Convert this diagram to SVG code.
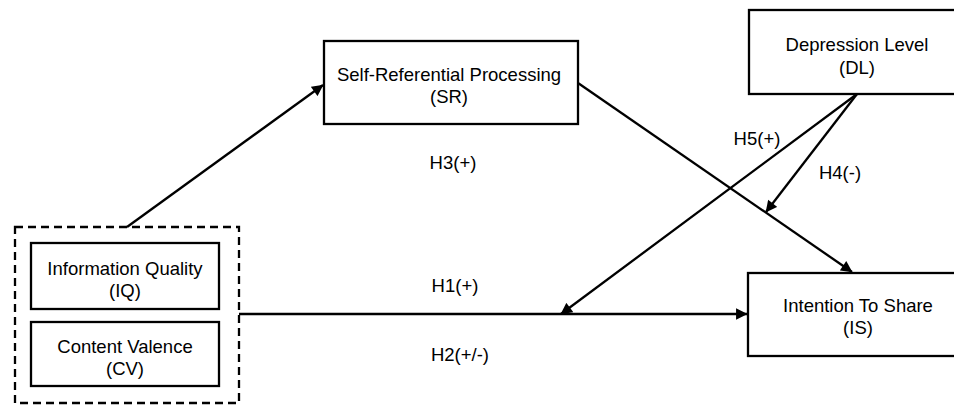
<svg xmlns="http://www.w3.org/2000/svg" width="954" height="405" viewBox="0 0 954 405">
  <style>
    .box { fill: #ffffff; stroke: #000000; stroke-width: 2.3; }
    .grp { fill: none; stroke: #000000; stroke-width: 2.3; stroke-dasharray: 8 5; }
    .txt { font-family: "Liberation Sans", Arial, sans-serif; font-size: 18.5px; fill: #000000; text-anchor: middle; }
    .edge { fill: none; stroke: #000000; stroke-width: 2.3; marker-end: url(#arrow); }
  </style>
  <defs>
    <marker id="arrow" viewBox="0 0 10 10" refX="9.5" refY="5" markerWidth="5.5" markerHeight="5" markerUnits="strokeWidth" orient="auto">
      <path d="M0,0 L10,5 L0,10 z" fill="#000000"/>
    </marker>
  </defs>
  <rect width="954" height="405" fill="#ffffff"/>

  <g id="connectors">
    <line class="edge" x1="127" y1="227" x2="323" y2="85"/>
    <line class="edge" x1="239" y1="314" x2="747" y2="314"/>
    <line class="edge" x1="578" y1="83" x2="852" y2="272"/>
    <line class="edge" x1="857" y1="94" x2="561" y2="314"/>
    <line class="edge" x1="857" y1="94" x2="766" y2="212"/>
    <text class="txt" x="453" y="169">H3(+)</text>
    <text class="txt" x="455" y="292">H1(+)</text>
    <text class="txt" x="460" y="361">H2(+/-)</text>
    <text class="txt" x="757" y="145">H5(+)</text>
    <text class="txt" x="840" y="179">H4(-)</text>
  </g>

  <g id="IQCV">
    <rect class="grp" x="15" y="227" width="224" height="176"/>
  </g>
  <g id="IQ">
    <rect class="box" x="31" y="243" width="188" height="66"/>
    <text class="txt" x="125" y="275">Information Quality</text>
    <text class="txt" x="125" y="297">(IQ)</text>
  </g>
  <g id="CV">
    <rect class="box" x="31" y="322" width="188" height="64"/>
    <text class="txt" x="125" y="353">Content Valence</text>
    <text class="txt" x="125" y="375">(CV)</text>
  </g>
  <g id="SR">
    <rect class="box" x="324" y="41" width="254" height="83"/>
    <text class="txt" x="449" y="81">Self-Referential Processing</text>
    <text class="txt" x="449" y="103">(SR)</text>
  </g>
  <g id="DL">
    <rect class="box" x="749" y="10" width="216" height="84"/>
    <text class="txt" x="857" y="51">Depression Level</text>
    <text class="txt" x="857" y="74">(DL)</text>
  </g>
  <g id="IS">
    <rect class="box" x="748" y="273" width="217" height="83"/>
    <text class="txt" x="858" y="312">Intention To Share</text>
    <text class="txt" x="858" y="334">(IS)</text>
  </g>
</svg>
